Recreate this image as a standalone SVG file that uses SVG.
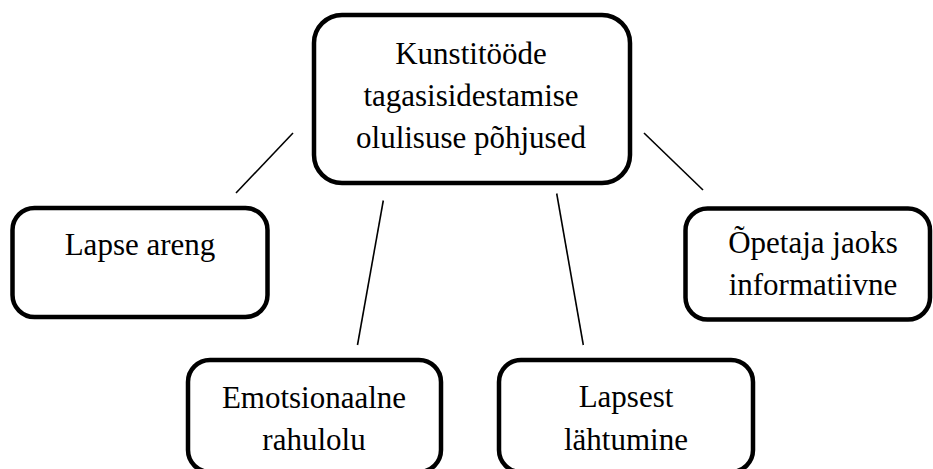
<svg xmlns="http://www.w3.org/2000/svg" width="933" height="469" viewBox="0 0 933 469">
<style>
.box{fill:#fff;stroke:#000;stroke-width:4.5}
.c{stroke:#000;stroke-width:1.6;fill:none}
text{font-family:"Liberation Serif",serif;font-size:31px;fill:#000;text-anchor:middle}
</style>
<rect width="933" height="469" fill="#fff"/>
<g id="connectors">
<line class="c" x1="236" y1="193" x2="293" y2="133"/>
<line class="c" x1="383.3" y1="200.5" x2="357.5" y2="345"/>
<line class="c" x1="556.7" y1="193.5" x2="583.3" y2="345"/>
<line class="c" x1="644" y1="133" x2="703" y2="190"/>
</g>
<g id="center">
<rect class="box" x="314" y="15" width="316" height="168" rx="28"/>
<text x="471" y="64" font-family="Liberation Serif">Kunstitööde</text>
<text x="471" y="106" font-family="Liberation Serif">tagasisidestamise</text>
<text x="471" y="148" font-family="Liberation Serif">olulisuse põhjused</text>
</g>
<g id="lapse-areng">
<rect class="box" x="12.5" y="208" width="255" height="109" rx="22"/>
<text x="140" y="255" font-family="Liberation Serif">Lapse areng</text>
</g>
<g id="emotsionaalne">
<rect class="box" x="188" y="360" width="253" height="112" rx="22"/>
<text x="314" y="408" font-family="Liberation Serif">Emotsionaalne</text>
<text x="314" y="450" font-family="Liberation Serif">rahulolu</text>
</g>
<g id="lapsest">
<rect class="box" x="499" y="360" width="254" height="112" rx="22"/>
<text x="626" y="407" font-family="Liberation Serif">Lapsest</text>
<text x="626" y="450" font-family="Liberation Serif">lähtumine</text>
</g>
<g id="opetaja">
<rect class="box" x="685.5" y="208.5" width="244.5" height="111" rx="22"/>
<text x="813" y="253" font-family="Liberation Serif">Õpetaja jaoks</text>
<text x="813" y="295" font-family="Liberation Serif">informatiivne</text>
</g>
</svg>
